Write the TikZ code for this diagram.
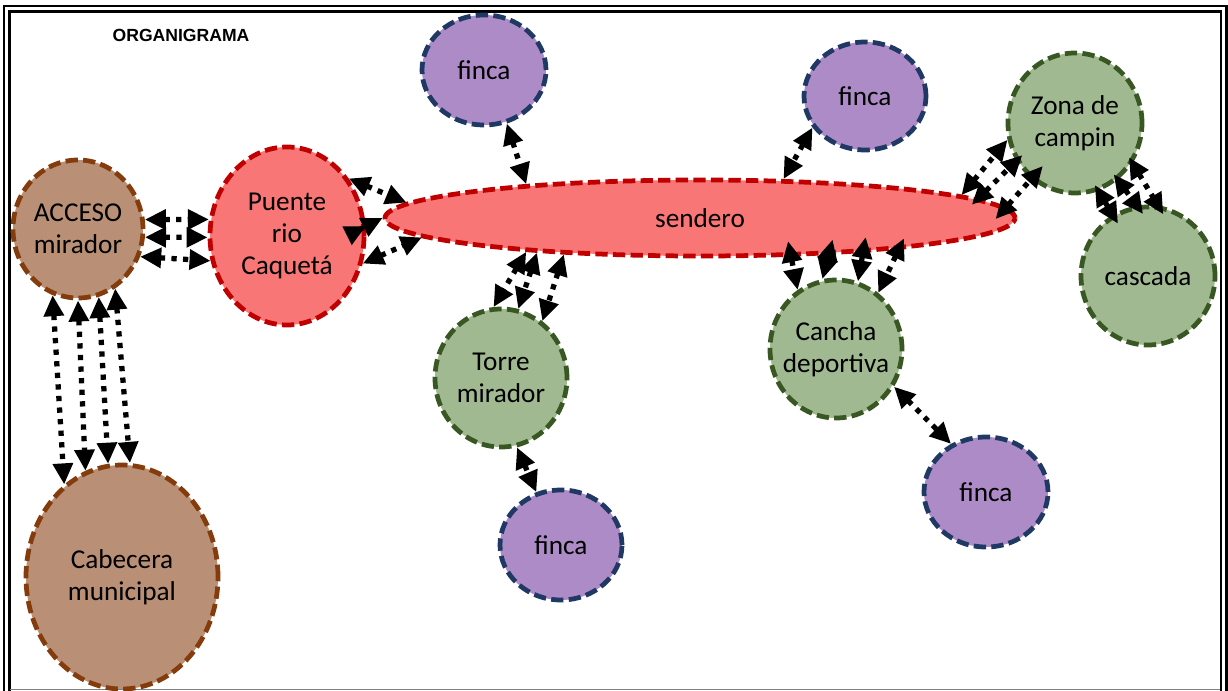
\documentclass[tikz,border=0pt]{standalone}
\usepackage{fontspec}
\setmainfont{Carlito}
\newfontfamily\titulo{Liberation Sans}
\usetikzlibrary{shapes.geometric,arrows.meta}

\definecolor{cafefondo}{RGB}{185,143,118}
\definecolor{cafeborde}{RGB}{132,60,12}
\definecolor{rojofondo}{RGB}{248,118,118}
\definecolor{rojoborde}{RGB}{192,0,0}
\definecolor{moradofondo}{RGB}{173,139,199}
\definecolor{moradoborde}{RGB}{31,56,100}
\definecolor{verdefondo}{RGB}{160,185,145}
\definecolor{verdeborde}{RGB}{56,87,35}

\begin{document}
\begin{tikzpicture}[x=0.2mm,y=-0.2mm,
		lugar/.style={ellipse, line width=2.7pt, dash pattern=on 7pt off 3pt,
			inner xsep=-6pt, inner ysep=0pt, align=center,
			font=\fontsize{15.5}{18}\selectfont},
		cafe/.style={lugar, fill=cafefondo, draw=cafeborde},
		rojo/.style={lugar, fill=rojofondo, draw=rojoborde},
		morado/.style={lugar, fill=moradofondo, draw=moradoborde},
		verde/.style={lugar, fill=verdefondo, draw=verdeborde},
		flecha/.style={line width=3pt, dash pattern=on 3pt off 3.6pt,
			{Triangle[length=12pt,width=11pt]}-{Triangle[length=12pt,width=11pt]}}]
		\useasboundingbox (0,0) rectangle (1228,691);
		\draw[line width=1.6pt] (4,6) rectangle (1226.5,720);
		\draw[line width=1.2pt] (9.5,11.5) rectangle (1221,720);
		\draw[gray, line width=0.8pt] (10,689.5) -- (1220,689.5);

		\node[font=\titulo\fontsize{10}{12}\selectfont\bfseries] (tit) at (181,35) {ORGANIGRAMA};

		\node[cafe, minimum width=26mm, minimum height=27.6mm] (acc) at (78,229) {ACCESO\\mirador};
		\node[rojo, minimum width=30.8mm, minimum height=35.6mm] (pue) at (287,236) {Puente\\rio\\Caquetá};
		\node[cafe, minimum width=38.4mm, minimum height=44.8mm] (cab) at (122,577) {Cabecera\\municipal};
		\node[rojo, minimum width=126mm, minimum height=15.2mm] (sen) at (700,218) {sendero};
		\node[morado, minimum width=24.8mm, minimum height=22mm] (f1) at (484,70) {finca};
		\node[morado, minimum width=24.4mm, minimum height=21.6mm] (f2) at (865,96) {finca};
		\node[verde, minimum width=26.8mm, minimum height=28mm] (zon) at (1075,123) {Zona de\\campin};
		\node[verde, minimum width=26.8mm, minimum height=27.6mm] (cas) at (1148,276) {cascada};
		\node[verde, minimum width=26.4mm, minimum height=27.6mm] (tor) at (501,378) {Torre\\mirador};
		\node[verde, minimum width=26.4mm, minimum height=27.6mm] (can) at (836,349) {Cancha\\deportiva};
		\node[morado, minimum width=24.4mm, minimum height=22mm] (f3) at (561,545) {finca};
		\node[morado, minimum width=24.8mm, minimum height=22mm] (f4) at (986,492) {finca};

		% acceso - puente
		\draw[flecha] (acc.8) -- (pue.168);
		\draw[flecha] (acc.-7) -- (pue.181);
		\draw[flecha] (acc.-24) -- (pue.198);
		% acceso - cabecera
		\draw[flecha] (acc.-111) -- (cab.122);
		\draw[flecha] (acc.-90) -- (cab.109);
		\draw[flecha] (acc.-73) -- (cab.97);
		\draw[flecha] (acc.-58) -- (cab.86);
		% puente - sendero
		\draw[flecha] (pue.43) -- (sen.177);
		\draw[flecha] (pue.7) -- (sen.180);
		\draw[flecha] (pue.-20) -- (sen.184);
		% fincas de arriba
		\draw[flecha] (f1.-67) -- (sen.169);
		\draw[flecha] (f2.211) -- (sen.25.5);
		% torre
		\draw[flecha] (sen.191) -- (tor.96);
		\draw[flecha] (sen.192.6) -- (tor.76);
		\draw[flecha] (sen.195) -- (tor.54);
		\draw[flecha] (tor.-77) -- (f3.115);
		% cancha
		\draw[flecha, shorten <=-9pt] (sen.-23.3) -- (can.123);
		\draw[flecha, shorten <=-9pt] (sen.-16.5) -- (can.101);
		\draw[flecha, shorten <=-9pt] (sen.-12.3) -- (can.72);
		\draw[flecha, shorten <=-7pt] (sen.-9.7) -- (can.53);
		\draw[flecha] (can.-33) -- (f4.126.5);
		% zona de campin
		\draw[flecha] (sen.5.4) -- (zon.194);
		\draw[flecha, shorten <=-5pt, shorten >=-5pt] (sen.4.4) -- (zon.213);
		\draw[flecha, shorten <=-9pt, shorten >=-10pt] (sen.2.3) -- (zon.232);
		\draw[flecha, shorten <=-4pt, shorten >=-6pt] (zon.-71) -- (cas.120);
		\draw[flecha, shorten <=-4pt, shorten >=-6pt] (zon.-53) -- (cas.99);
		\draw[flecha, shorten <=-4pt, shorten >=-6pt] (zon.-35) -- (cas.82);
\end{tikzpicture}
\end{document}
